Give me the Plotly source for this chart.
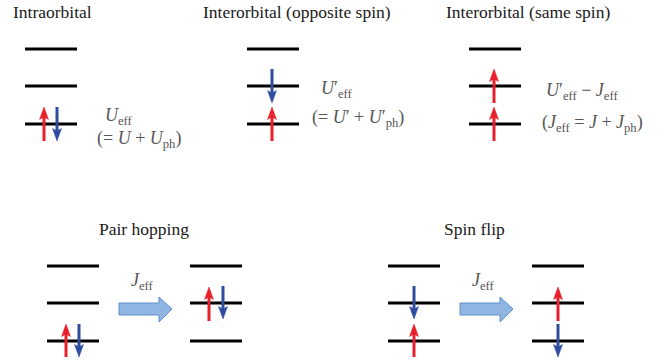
import plotly.graph_objects as go

# ---- data ----
titles = ["Intraorbital", "Interorbital (opposite spin)", "Interorbital (same spin)", "Pair hopping", "Spin flip"]
title_x = [52, 297, 528, 144, 474]
title_y = [12, 12, 12, 229, 229]

# energy-level stacks: left x of each stack, and level heights (top row / bottom row)
top_stack_x = [25, 247, 469]
top_levels_y = [49, 86, 124]
bot_stack_x = [47, 190, 388, 532]
bot_levels_y = [266, 303, 341]
level_len = 52

# spin arrows: x, tail y, tip y, spin ("up"/"down")
arrow_x = [44, 57, 272, 272, 494, 494, 66, 79, 209, 223, 414, 414, 558, 558]
arrow_tail = [141, 107, 69, 141, 103, 141, 357, 324, 321, 286, 286, 357, 321, 324]
arrow_tip = [107, 141, 103, 107, 69, 107, 324, 357, 287, 319, 319, 324, 287, 357]
arrow_spin = ["up", "down", "down", "up", "up", "up", "up", "down", "up", "down", "down", "up", "up", "down"]

# interaction labels
labels = [
    "<i>U</i><sub>eff</sub>",
    "(= <i>U</i> + <i>U</i><sub>ph</sub>)",
    "<i>U</i>′<sub>eff</sub>",
    "(= <i>U</i>′ + <i>U</i>′<sub>ph</sub>)",
    "<i>U</i>′<sub>eff</sub> − <i>J</i><sub>eff</sub>",
    "(<i>J</i><sub>eff</sub> = <i>J</i> + <i>J</i><sub>ph</sub>)",
    "<i>J</i><sub>eff</sub>",
    "<i>J</i><sub>eff</sub>",
]
label_x = [103, 95, 319, 310, 544, 540, 129, 470]
label_y = [116, 139, 89, 118, 91, 123, 281, 281]

# block arrows (transition): start x, end x, centre y
block_start = [119, 460]
block_end = [172, 513]
block_y = [309, 309]

RED = "#e8202a"
BLUE = "#2f4c9f"
HEAD_LEN = 11
HEAD_HALF = 4.5
SERIF = "Liberation Serif, Times New Roman, serif"

fig = go.Figure()
shapes = []
annotations = []

# levels
for sx in top_stack_x:
    for ly in top_levels_y:
        shapes.append(dict(type="line", xref="x", yref="y", x0=sx, x1=sx + level_len, y0=ly, y1=ly,
                           line=dict(color="black", width=3.2)))
for sx in bot_stack_x:
    for ly in bot_levels_y:
        shapes.append(dict(type="line", xref="x", yref="y", x0=sx, x1=sx + level_len, y0=ly, y1=ly,
                           line=dict(color="black", width=3.2)))

# spin arrows: shaft + triangular head
for x, t0, t1, s in zip(arrow_x, arrow_tail, arrow_tip, arrow_spin):
    col = RED if s == "up" else BLUE
    d = 1 if t1 > t0 else -1
    base = t1 - d * HEAD_LEN
    shapes.append(dict(type="line", xref="x", yref="y", x0=x, x1=x, y0=t0, y1=base + d * 2,
                       line=dict(color=col, width=3)))
    shapes.append(dict(type="path", xref="x", yref="y",
                       path=f"M {x - HEAD_HALF},{base - d * 1.5} L {x},{t1} L {x + HEAD_HALF},{base - d * 1.5} L {x},{base + d * 1} Z",
                       fillcolor=col, line=dict(color=col, width=0.5)))

# block arrows
for x0, x1, yc in zip(block_start, block_end, block_y):
    hx = x1 - 13
    path = (f"M {x0},{yc-6} L {hx},{yc-6} L {hx},{yc-12} L {x1},{yc} L {hx},{yc+13} "
            f"L {hx},{yc+6} L {x0},{yc+6} Z")
    shapes.append(dict(type="path", xref="x", yref="y", path=path,
                       fillcolor="#8fb6e3", line=dict(color="#5f8fcb", width=1)))

# titles
for t, x, y in zip(titles, title_x, title_y):
    annotations.append(dict(x=x, y=y, xref="x", yref="y", text=t, showarrow=False,
                            xanchor="center", yanchor="middle",
                            font=dict(family=SERIF, size=17.5, color="#1a1a1a")))

# labels
for t, x, y in zip(labels, label_x, label_y):
    annotations.append(dict(x=x, y=y, xref="x", yref="y", text=t, showarrow=False,
                            xanchor="left", yanchor="middle",
                            font=dict(family=SERIF, size=18, color="#555555")))

fig.update_layout(
    width=665, height=360,
    margin=dict(l=0, r=0, t=0, b=0),
    paper_bgcolor="white", plot_bgcolor="white",
    font=dict(family=SERIF),
    xaxis=dict(range=[0, 665], visible=False, fixedrange=True),
    yaxis=dict(range=[360, 0], visible=False, fixedrange=True),
    shapes=shapes, annotations=annotations, showlegend=False,
)

fig.write_html("out.html", config={"displayModeBar": False})
